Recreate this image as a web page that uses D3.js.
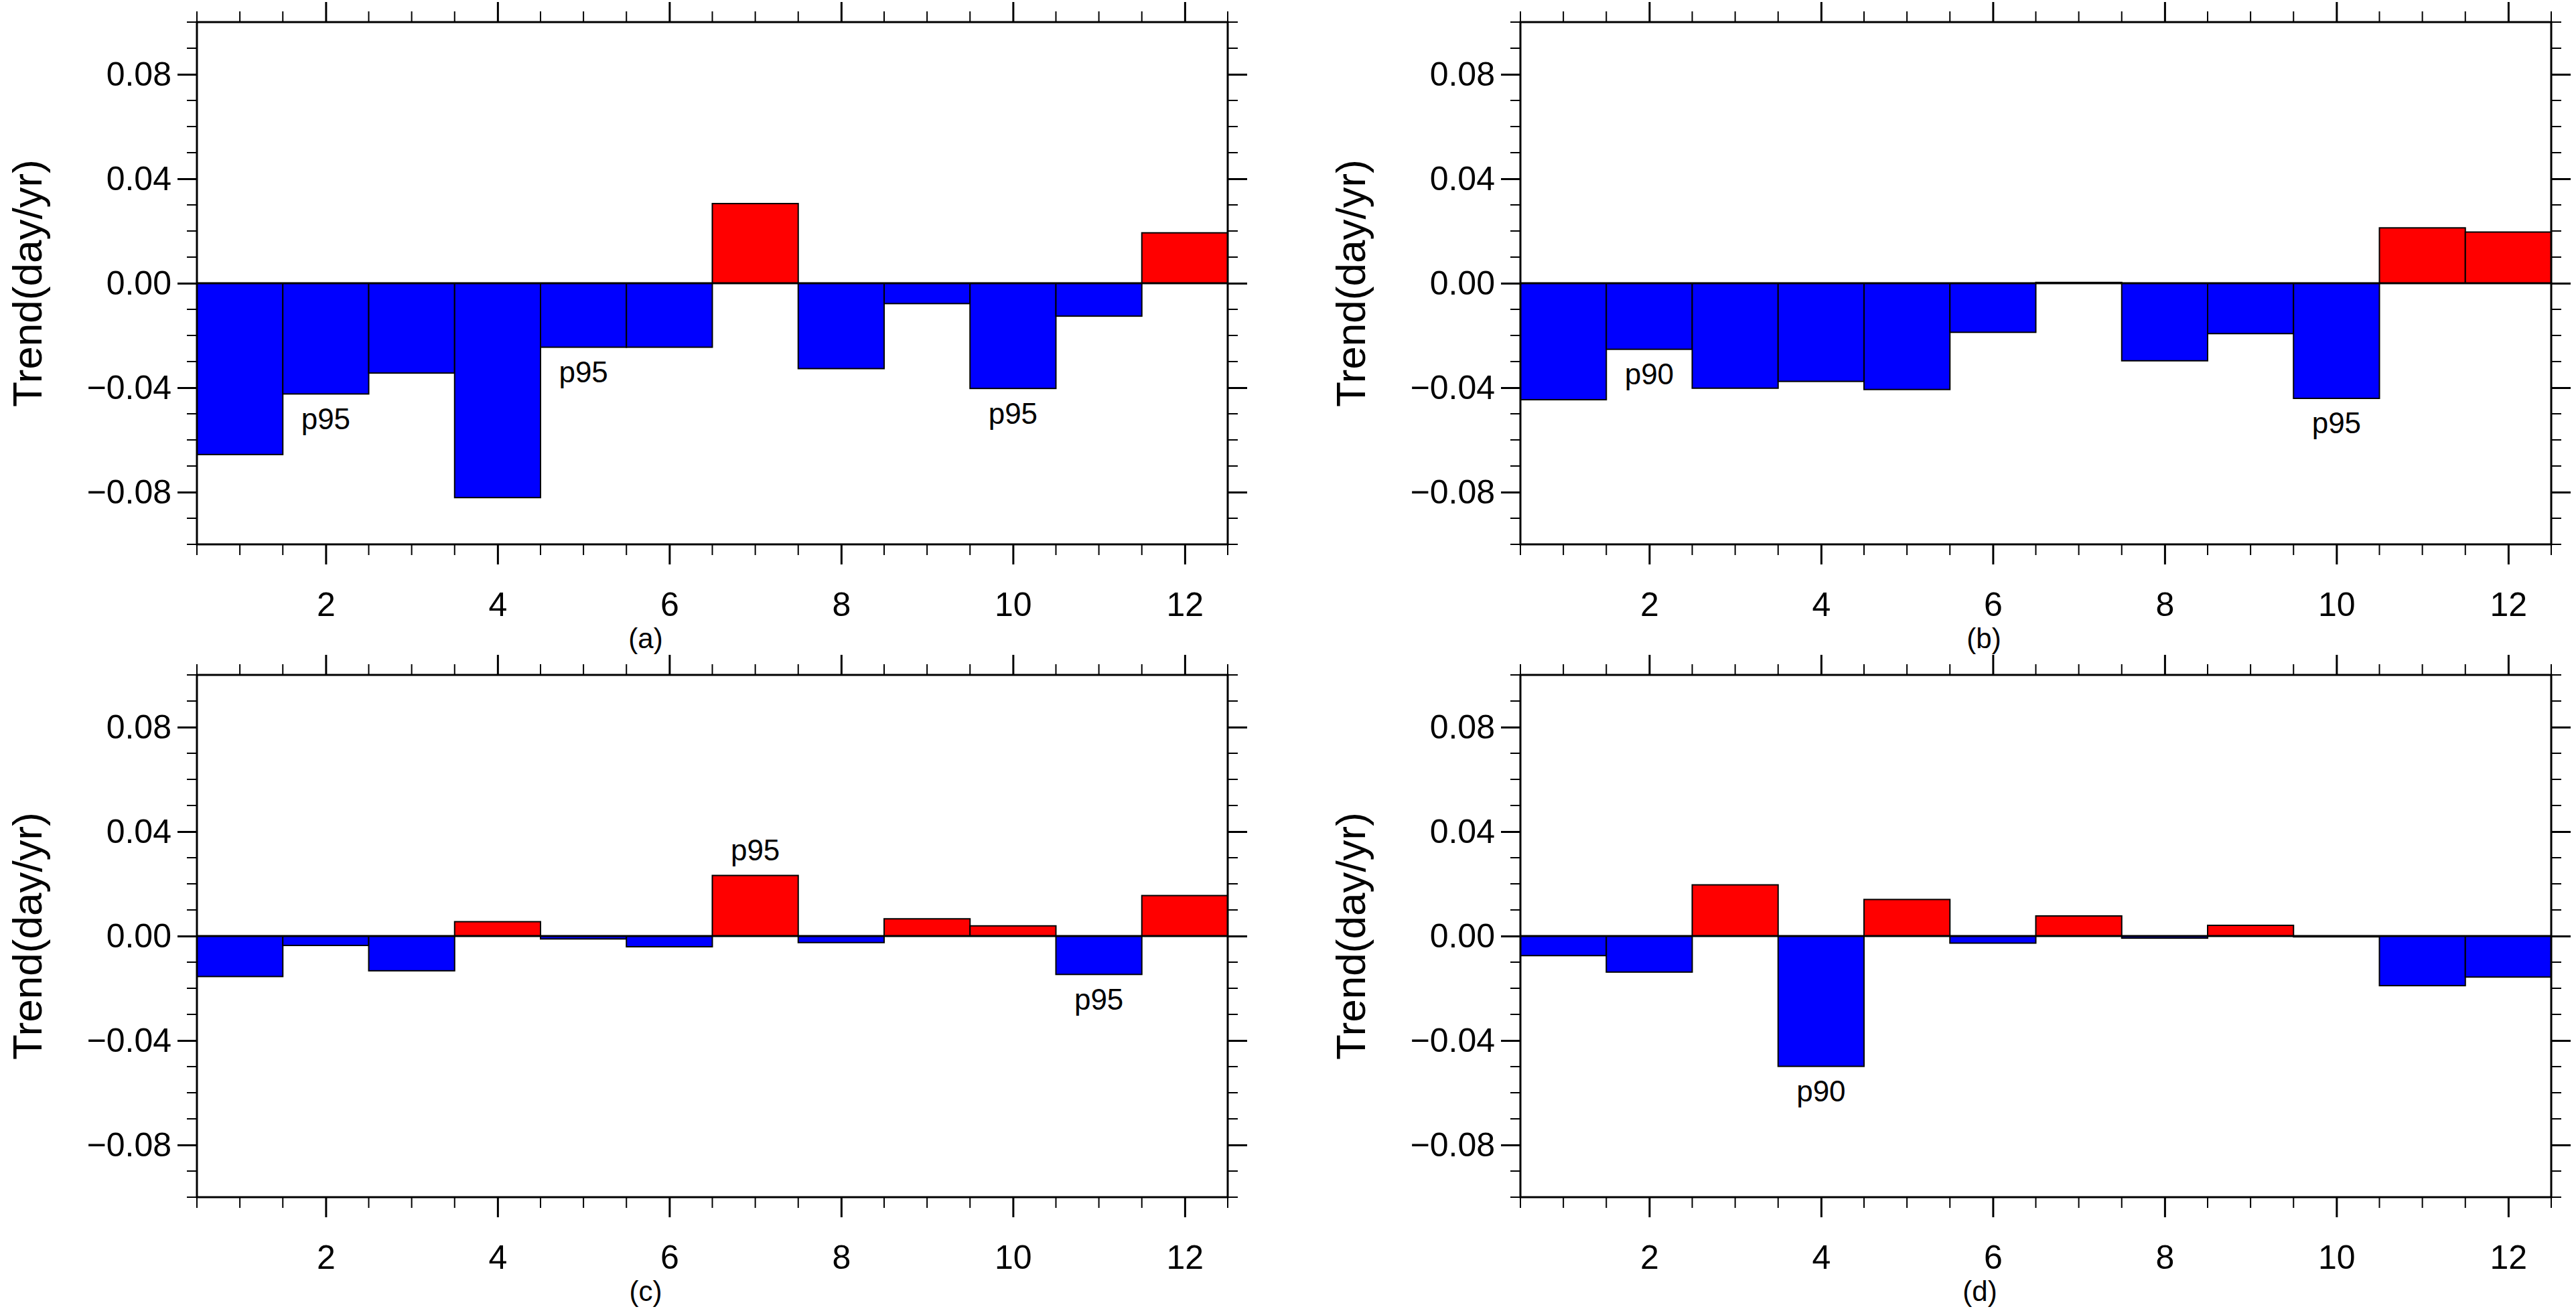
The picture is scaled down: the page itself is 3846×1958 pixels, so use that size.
<!DOCTYPE html>
<html>
<head>
<meta charset="utf-8">
<script src="https://cdn.jsdelivr.net/npm/d3@7"></script>
<style>
  body { margin: 0; background: #fff; }
  text { font-family: "Liberation Sans", Arial, sans-serif; }
</style>
</head>
<body>
<div id="chart"></div>
<script>
// monthly trends for each panel (day/yr)
const months = [1, 2, 3, 4, 5, 6, 7, 8, 9, 10, 11, 12];
const trendA = [-0.0656, -0.0424, -0.0344, -0.0821, -0.0245, -0.0245, 0.0305, -0.0327, -0.0078, -0.0403, -0.0126, 0.0193];
const trendB = [-0.0446, -0.0253, -0.0402, -0.0376, -0.0407, -0.0188, 0.0003, -0.0297, -0.0193, -0.0441, 0.0212, 0.0196];
const trendC = [-0.0155, -0.0036, -0.0133, 0.0055, -0.0011, -0.0041, 0.0232, -0.0025, 0.0066, 0.0039, -0.0147, 0.0155];
const trendD = [-0.0075, -0.0138, 0.0196, -0.0499, 0.014, -0.0027, 0.0077, -0.0008, 0.0041, -0.0003, -0.019, -0.0157];
// significance labels: [month, text]
const sigA = [[2, "p95"], [5, "p95"], [10, "p95"]];
const sigB = [[2, "p90"], [10, "p95"]];
const sigC = [[7, "p95"], [11, "p95"]];
const sigD = [[4, "p90"]];
const panelNames = ["(a)", "(b)", "(c)", "(d)"];
const yTicks = [-0.08, -0.04, 0, 0.04, 0.08];
const xTicks = [2, 4, 6, 8, 10, 12];

const width = 3846, height = 1958;
const pw = 1539, ph = 780;
const panels = [
  { x: 294, y: 33, data: trendA, sig: sigA, labelX: 964 },
  { x: 2270, y: 33, data: trendB, sig: sigB, labelX: 2962 },
  { x: 294, y: 1008, data: trendC, sig: sigC, labelX: 964 },
  { x: 2270, y: 1008, data: trendD, sig: sigD, labelX: 2956 }
];

const svg = d3.select("#chart").append("svg")
  .attr("width", width).attr("height", height);

const x = d3.scaleLinear().domain([0.5, 12.5]).range([0, pw]);
const y = d3.scaleLinear().domain([-0.1, 0.1]).range([ph, 0]);

panels.forEach((p, i) => {
  const g = svg.append("g").attr("transform", `translate(${p.x},${p.y})`);

  // bars
  g.selectAll("rect.bar")
    .data(p.data)
    .enter().append("rect")
    .attr("class", "bar")
    .attr("x", (d, j) => x(months[j] - 0.5))
    .attr("width", x(1.5) - x(0.5))
    .attr("y", d => y(Math.max(0, d)))
    .attr("height", d => Math.abs(y(d) - y(0)))
    .attr("fill", d => d >= 0 ? "#ff0000" : "#0000ff")
    .attr("stroke", "#000")
    .attr("stroke-width", 2);

  // zero line
  g.append("line")
    .attr("x1", 0).attr("x2", pw)
    .attr("y1", y(0)).attr("y2", y(0))
    .attr("stroke", "#000").attr("stroke-width", 3);

  // major ticks, outward on all four sides
  const bottom = g.append("g").attr("transform", `translate(0,${ph})`)
    .call(d3.axisBottom(x).tickValues(xTicks).tickFormat(d3.format("d")).tickSize(30));
  bottom.selectAll("text").attr("y", 89).attr("dy", "0.35em");
  const top = g.append("g")
    .call(d3.axisTop(x).tickValues(xTicks).tickFormat("").tickSize(30));
  const left = g.append("g")
    .call(d3.axisLeft(y).tickValues(yTicks).tickFormat(d3.format(".2f")).tickSize(29).tickPadding(9));
  const right = g.append("g").attr("transform", `translate(${pw},0)`)
    .call(d3.axisRight(y).tickValues(yTicks).tickFormat("").tickSize(29));
  [bottom, top, left, right].forEach(a => {
    a.select(".domain").remove();
    a.selectAll("line").attr("stroke-width", 3);
    a.selectAll("text").attr("font-size", 50).attr("fill", "#000");
  });

  // minor ticks
  const xMinor = d3.range(0.5, 12.51, 0.5).filter(v => v % 2 !== 0);
  const yMinor = d3.range(-0.1, 0.1001, 0.01).filter(v => !yTicks.some(t => Math.abs(t - v) < 1e-6));
  [[0, -16], [ph, 16]].forEach(([yy, len]) => {
    g.selectAll(null).data(xMinor).enter().append("line")
      .attr("x1", d => x(d)).attr("x2", d => x(d))
      .attr("y1", yy).attr("y2", yy + len)
      .attr("stroke", "#000").attr("stroke-width", 2);
  });
  [[0, -15], [pw, 15]].forEach(([xx, len]) => {
    g.selectAll(null).data(yMinor).enter().append("line")
      .attr("x1", xx).attr("x2", xx + len)
      .attr("y1", d => y(d)).attr("y2", d => y(d))
      .attr("stroke", "#000").attr("stroke-width", 2);
  });

  // frame
  g.append("rect")
    .attr("width", pw).attr("height", ph)
    .attr("fill", "none").attr("stroke", "#000").attr("stroke-width", 3);

  // significance labels
  p.sig.forEach(([m, t]) => {
    const v = p.data[m - 1];
    g.append("text")
      .attr("x", x(m))
      .attr("y", v >= 0 ? y(v) - 38 : y(v) + 37)
      .attr("dy", "0.35em")
      .attr("text-anchor", "middle")
      .attr("font-size", 44)
      .text(t);
  });

  // y title
  svg.append("text")
    .attr("transform", `translate(${p.x - 254},${p.y + ph / 2}) rotate(-90)`)
    .attr("text-anchor", "middle")
    .attr("dy", "0.35em")
    .attr("font-size", 62)
    .text("Trend(day/yr)");

  // panel name
  svg.append("text")
    .attr("x", p.labelX)
    .attr("y", p.y + ph + 140)
    .attr("dy", "0.35em")
    .attr("text-anchor", "middle")
    .attr("font-family", "'Liberation Serif', serif")
    .attr("font-size", 42)
    .text(panelNames[i]);
});
</script>
</body>
</html>
